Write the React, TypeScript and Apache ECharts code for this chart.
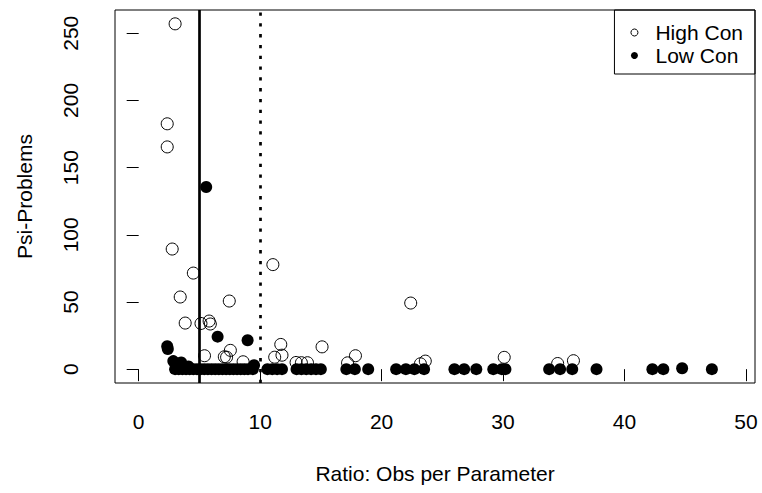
import React, { useEffect, useRef } from "react";
import * as echarts from "echarts";

// High Con (open circles)
const highConX = [3.0, 2.35, 2.35, 2.76, 4.5, 3.42, 3.83, 7.46, 11.05, 22.4, 5.13, 5.8, 5.9, 5.42, 7.55, 7.05, 7.24, 8.6, 11.7, 11.2, 11.8, 15.1, 12.96, 13.4, 13.9, 17.2, 17.85, 23.2, 23.6, 30.1, 34.5, 35.8];
const highConY = [257, 182.6, 165.4, 89.4, 71.5, 53.7, 34.3, 50.7, 77.8, 49.2, 34, 35.8, 33.6, 10, 14, 9.2, 8.9, 5.5, 18.4, 8.9, 10.4, 16.6, 5, 4.8, 4.8, 4.7, 10, 4, 6, 8.8, 4.2, 6.3];

// Low Con (filled circles)
const lowConX = [5.56, 6.5, 8.97, 2.35, 2.4, 2.85, 3.5, 3.2, 4.1, 9.5, 44.75,
  3.0, 3.3, 3.6, 3.9, 4.2, 4.5, 4.8, 5.1, 5.4, 5.7, 6.0, 6.3, 6.6, 6.9, 7.2, 7.5, 7.8, 8.1, 8.4, 8.7, 9.0, 9.4,
  10.6, 11.0, 11.4, 11.8, 13.0, 13.4, 13.8, 14.2, 14.6, 15.0,
  17.1, 17.8, 18.9, 21.2, 22.0, 22.7, 23.5, 26.0, 26.8, 27.8, 29.2, 29.9, 30.2, 33.8, 34.7, 35.7, 37.7, 42.3, 43.2, 47.2];
const lowConY = [135.6, 24.2, 21.5, 17, 15, 6, 5, 3, 2, 3, 0.7,
  0, 0, 0, 0, 0, 0, 0, 0, 0, 0, 0, 0, 0, 0, 0, 0, 0, 0, 0, 0, 0, 0,
  0, 0, 0, 0, 0, 0, 0, 0, 0, 0,
  0, 0, 0, 0, 0, 0, 0, 0, 0, 0, 0, 0, 0, 0, 0, 0, 0, 0, 0, 0];

const xTicks = [0, 10, 20, 30, 40, 50];
const yTicks = [0, 50, 100, 150, 200, 250];
const solidLineX = 5;
const dottedLineX = 10;

const FONT = "'Liberation Sans', Arial, sans-serif";
const FS = 21;

export default function App() {
  const ref = useRef<HTMLDivElement>(null);
  useEffect(() => {
    if (!ref.current) return;
    const chart = echarts.init(ref.current, undefined, { renderer: "svg" });
    const high = highConX.map((x, i) => [x, highConY[i]]);
    const low = lowConX.map((x, i) => [x, lowConY[i]]);
    chart.setOption({
      animation: false,
      backgroundColor: "#fff",
      textStyle: { fontFamily: FONT },
      grid: {
        left: 115, top: 10, right: 7, bottom: 110,
        show: true, borderColor: "#000", borderWidth: 1, backgroundColor: "transparent",
      },
      legend: {
        orient: "vertical",
        right: 7,
        top: 10,
        borderColor: "#000",
        borderWidth: 1,
        borderRadius: 0,
        padding: [12, 12, 8, 16],
        itemGap: 2,
        itemWidth: 32,
        itemHeight: 7,
        textStyle: { fontSize: FS, color: "#000", fontFamily: FONT },
        data: [
          { name: "High Con", icon: "circle", itemStyle: { color: "#fff", borderColor: "#000", borderWidth: 1 } },
          { name: "Low Con", icon: "circle", itemStyle: { color: "#000", borderColor: "#000", borderWidth: 0 } },
        ],
      },
      xAxis: {
        type: "value",
        min: -1.95,
        max: 50.75,
        name: "Ratio: Obs per Parameter",
        nameLocation: "middle",
        nameGap: 80,
        nameTextStyle: { fontSize: FS, color: "#000", fontFamily: FONT },
        axisLine: { show: false },
        splitLine: { show: false },
        axisTick: { show: true, length: 12, lineStyle: { color: "#000", width: 1 }, customValues: xTicks },
        axisLabel: { fontSize: FS, color: "#000", fontFamily: FONT, margin: 28, customValues: xTicks },
      },
      yAxis: {
        type: "value",
        min: -10.3,
        max: 267.3,
        name: "Psi-Problems",
        nameLocation: "middle",
        nameGap: 80,
        nameTextStyle: { fontSize: FS, color: "#000", fontFamily: FONT },
        axisLine: { show: false },
        splitLine: { show: false },
        axisTick: { show: true, length: 12, lineStyle: { color: "#000", width: 1 }, customValues: yTicks },
        axisLabel: { fontSize: FS, color: "#000", fontFamily: FONT, margin: 34, rotate: 90, customValues: yTicks },
      },
      series: [
        {
          name: "High Con",
          type: "scatter",
          symbol: "circle",
          symbolSize: 12,
          data: high,
          itemStyle: { color: "transparent", borderColor: "#000", borderWidth: 1, opacity: 1 },
          emphasis: { disabled: true },
        },
        {
          name: "Low Con",
          type: "scatter",
          symbol: "circle",
          symbolSize: 12,
          data: low,
          itemStyle: { color: "#000", opacity: 1 },
          emphasis: { disabled: true },
          markLine: {
            silent: true,
            symbol: ["none", "none"],
            label: { show: false },
            data: [
              { xAxis: solidLineX, lineStyle: { color: "#000", width: 2.7, type: "solid" } },
              { xAxis: dottedLineX, lineStyle: { color: "#000", width: 2.7, type: [3.3, 7.5] } },
            ],
          },
        },
      ],
    });
    return () => chart.dispose();
  }, []);
  return <div ref={ref} style={{ position: "fixed", left: 0, top: 0, width: 762, height: 493 }} />;
}
